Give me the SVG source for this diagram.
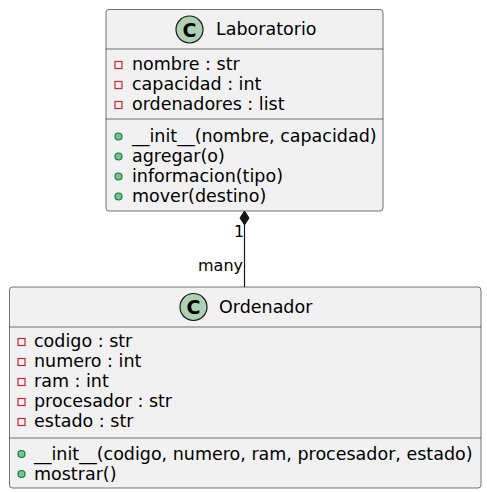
<svg xmlns="http://www.w3.org/2000/svg" width="487" height="492" viewBox="0 0 487 492">
<defs>
<style>
.box{fill:#F1F1F1;stroke:#181818;stroke-width:0.6}
.sep{stroke:#181818;stroke-width:0.6}
.t{font-family:"DejaVu Sans",sans-serif;font-size:17.5px;fill:#000}
.lbl{font-family:"DejaVu Sans",sans-serif;font-size:16px;fill:#000}
.circ{fill:#ADD1B2;stroke:#181818;stroke-width:1.2}
.cl{font-family:"DejaVu Sans",sans-serif;font-size:19px;font-weight:bold;fill:#000;text-anchor:middle}
.priv{fill:none;stroke:#C82930;stroke-width:1.2}
.pub{fill:#84BE84;stroke:#038048;stroke-width:1.2}
</style>
</defs>
<rect width="487" height="492" fill="#FFFFFF"/>
<g id="connectors">
<line x1="244.5" y1="225" x2="244.5" y2="287" stroke="#181818" stroke-width="1.2"/>
<polygon points="244.5,211 249,218 244.5,225 240,218" fill="#181818" stroke="#181818" stroke-width="1"/>
<text class="lbl" x="234" y="237">1</text>
<text class="lbl" x="243" y="271" text-anchor="end">many</text>
</g>
<g id="Laboratorio">
<rect class="box" x="106" y="9.5" width="277" height="201.5" rx="3"/>
<circle class="circ" cx="189.5" cy="29.5" r="13.5"/>
<text class="cl" x="189.5" y="36.5">C</text>
<text class="t" x="216" y="35">Laboratorio</text>
<line class="sep" x1="106" y1="49" x2="383" y2="49"/>
<rect class="priv" x="115" y="61.5" width="7" height="7"/>
<text class="t" x="132" y="70">nombre : str</text>
<rect class="priv" x="115" y="81.5" width="7" height="7"/>
<text class="t" x="132" y="90">capacidad : int</text>
<rect class="priv" x="115" y="101.5" width="7" height="7"/>
<text class="t" x="132" y="110">ordenadores : list</text>
<line class="sep" x1="106" y1="119" x2="383" y2="119"/>
<circle class="pub" cx="118.5" cy="136.5" r="3.5"/>
<text class="t" x="132" y="142">__init__(nombre, capacidad)</text>
<circle class="pub" cx="118.5" cy="156.5" r="3.5"/>
<text class="t" x="132" y="162">agregar(o)</text>
<circle class="pub" cx="118.5" cy="176.5" r="3.5"/>
<text class="t" x="132" y="182">informacion(tipo)</text>
<circle class="pub" cx="118.5" cy="196.5" r="3.5"/>
<text class="t" x="132" y="202">mover(destino)</text>
</g>
<g id="Ordenador">
<rect class="box" x="9.5" y="287" width="471.5" height="201" rx="3"/>
<circle class="circ" cx="193.5" cy="307" r="13.5"/>
<text class="cl" x="193.5" y="314">C</text>
<text class="t" x="219" y="313">Ordenador</text>
<line class="sep" x1="9.5" y1="327" x2="481" y2="327"/>
<rect class="priv" x="18" y="338.5" width="7" height="7"/>
<text class="t" x="34" y="347">codigo : str</text>
<rect class="priv" x="18" y="358.5" width="7" height="7"/>
<text class="t" x="34" y="367">numero : int</text>
<rect class="priv" x="18" y="378.5" width="7" height="7"/>
<text class="t" x="34" y="387">ram : int</text>
<rect class="priv" x="18" y="398.5" width="7" height="7"/>
<text class="t" x="34" y="407">procesador : str</text>
<rect class="priv" x="18" y="418.5" width="7" height="7"/>
<text class="t" x="34" y="427">estado : str</text>
<line class="sep" x1="9.5" y1="438" x2="481" y2="438"/>
<circle class="pub" cx="21.5" cy="454" r="3.5"/>
<text class="t" x="34" y="459.5">__init__(codigo, numero, ram, procesador, estado)</text>
<circle class="pub" cx="21.5" cy="474" r="3.5"/>
<text class="t" x="34" y="479.5">mostrar()</text>
</g>
</svg>
